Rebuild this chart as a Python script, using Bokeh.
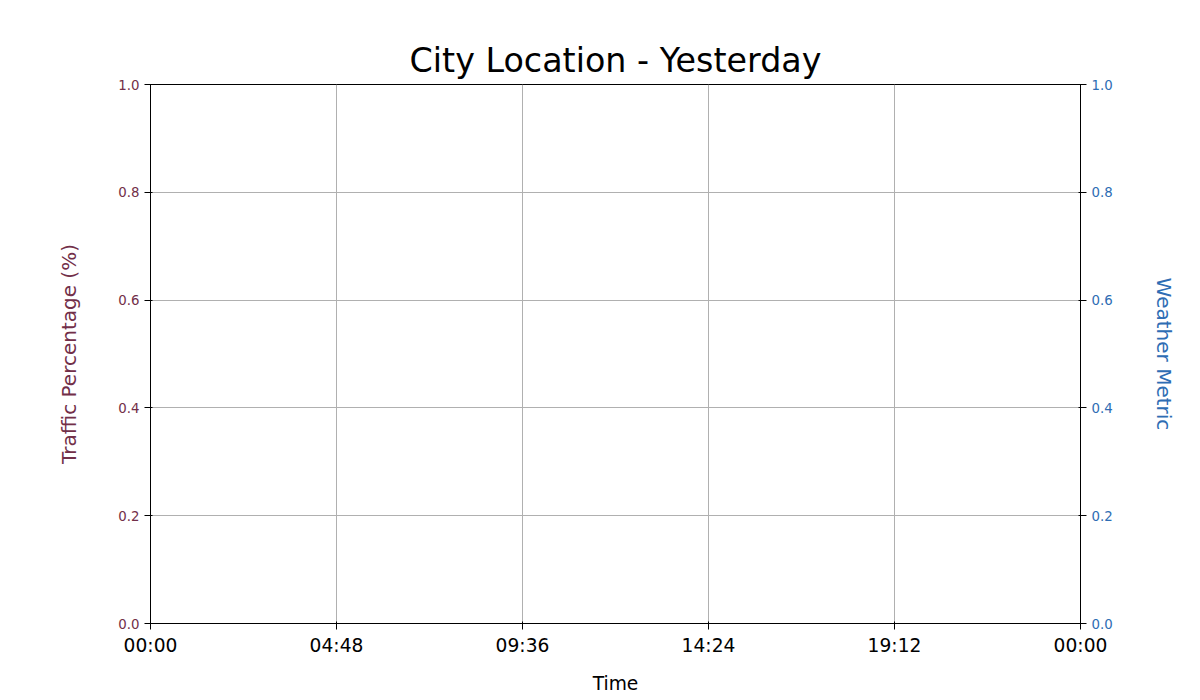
from bokeh.plotting import figure
from bokeh.models import LinearAxis, Range1d, FixedTicker, NumeralTickFormatter
from bokeh.embed import file_html
from bokeh.resources import INLINE

# Dane: wykres jest pusty, tylko osie
x_ticks = [0, 4.8, 9.6, 14.4, 19.2, 24]
x_labels = ["00:00", "04:48", "09:36", "14:24", "19:12", "00:00"]
y_ticks = [0.0, 0.2, 0.4, 0.6, 0.8, 1.0]

traffic_color = "#722F49"
weather_color = "#2E6DB4"

p = figure(title="City Location - Yesterday",
           frame_width=930, frame_height=539,
           min_border_left=150, min_border_right=104,
           min_border_top=84, min_border_bottom=61,
           x_range=Range1d(0, 24), y_range=Range1d(0, 1),
           output_backend="svg", toolbar_location=None)

p.title.align = "center"
p.title.text_font = "DejaVu Sans"
p.title.text_font_size = "25pt"
p.title.text_font_style = "normal"
p.title.text_color = "black"

p.outline_line_color = "black"
p.grid.grid_line_color = "#b0b0b0"

p.xaxis.ticker = FixedTicker(ticks=x_ticks)
p.xaxis.major_label_overrides = {t: l for t, l in zip(x_ticks, x_labels)}
p.xaxis.axis_label = "Time"
p.xaxis.major_label_text_font_size = "14pt"
p.xaxis.axis_label_text_font_size = "14pt"
p.xaxis.axis_label_text_font_style = "normal"
p.xaxis.major_label_text_color = "black"
p.xaxis.axis_label_text_color = "black"
p.xaxis.axis_label_standoff = 14
p.xaxis.minor_tick_line_color = None

p.yaxis.ticker = FixedTicker(ticks=y_ticks)
p.yaxis.formatter = NumeralTickFormatter(format="0.0")
p.yaxis.axis_label = "Traffic Percentage (%)"
p.yaxis.axis_label_text_color = traffic_color
p.yaxis.major_label_text_color = traffic_color
p.yaxis.axis_label_text_font_size = "15pt"
p.yaxis.axis_label_text_font_style = "normal"
p.yaxis.axis_label_standoff = 34
p.yaxis.minor_tick_line_color = None

p.extra_y_ranges = {"weather": Range1d(0, 1)}
right = LinearAxis(y_range_name="weather", axis_label="Weather Metric",
                   ticker=FixedTicker(ticks=y_ticks),
                   formatter=NumeralTickFormatter(format="0.0"))
right.axis_label_text_color = weather_color
right.major_label_text_color = weather_color
right.axis_label_text_font_size = "15pt"
right.axis_label_text_font_style = "normal"
right.axis_label_standoff = 36
right.minor_tick_line_color = None
if "axis_label_orientation" in right.properties():
    right.axis_label_orientation = "vertical"
p.add_layout(right, "right")

for ax in p.axis:
    ax.axis_label_text_font = "DejaVu Sans"
    ax.major_label_text_font = "DejaVu Sans"
for ax in [p.yaxis[0], right]:
    ax.major_label_text_font_size = "10pt"

open("out.html", "w").write(file_html(p, INLINE))
